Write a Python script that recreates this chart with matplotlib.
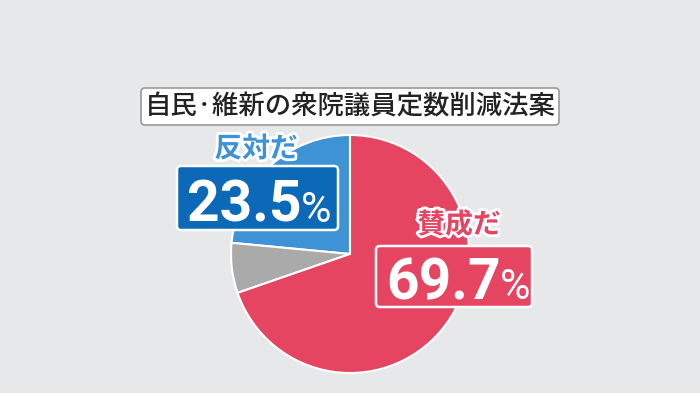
import matplotlib.pyplot as plt
import matplotlib.patheffects as pe
from matplotlib.patches import FancyBboxPatch

TITLE = "自民·維新の衆院議員定数削減法案"
labels = ["反対だ", "その他", "賛成だ"]
shares = [23.5, 6.8, 69.7]
colors = ["#3d93d5", "#aaaaaa", "#e64561"]

BG = "#e6e8e9"
BLUE_BOX = "#0b69b7"
RED_BOX = "#e64561"

plt.rcParams["font.family"] = ["Noto Sans CJK JP", "DejaVu Sans"]

fig = plt.figure(figsize=(7, 3.93), dpi=100)
fig.patch.set_facecolor(BG)
ax = fig.add_axes([0, 0, 1, 1])
ax.set_xlim(0, 700)
ax.set_ylim(0, 393)
ax.set_aspect("equal")
ax.axis("off")

H = 393


def box(x0, y0, x1, y1, face, edge, lw):
    # y given in pixel-from-top coords
    p = FancyBboxPatch((x0, H - y1), x1 - x0, y1 - y0,
                       boxstyle="round,pad=0,rounding_size=4",
                       facecolor=face, edgecolor=edge, linewidth=lw, zorder=4)
    ax.add_patch(p)


def percent(x_left, y_base, value):
    t = ax.text(x_left, H - y_base, f"{value}", ha="left", va="baseline",
                fontsize=41, fontweight="bold", family=["Roboto", "DejaVu Sans"],
                color="white", zorder=5)
    ax.annotate("%", xy=(1, 0), xycoords=t, xytext=(-0.5, 2.0),
                textcoords="offset points", ha="left", va="bottom",
                fontsize=30, fontweight="regular", family=["Roboto", "DejaVu Sans"],
                color="white", zorder=5)


ax.pie(shares, colors=colors, center=(350, H - 254), radius=119,
       startangle=90, counterclock=True,
       wedgeprops=dict(edgecolor="white", linewidth=1.5))
ax.set_xlim(0, 700)
ax.set_ylim(0, 393)

# title
box(141, 88, 559, 125, "white", "#9a9a9a", 1.2)
ax.text(350, H - 106.5, TITLE, ha="center", va="center", fontsize=19,
        fontweight="medium", color="#222222", zorder=5)

outline = [pe.withStroke(linewidth=4, foreground="white")]

# against
ax.text(256, H - 149, labels[0], ha="center", va="center", fontsize=20,
        fontweight="bold", color=colors[0], path_effects=outline, zorder=5)
box(177, 166, 338, 230, BLUE_BOX, "white", 1.8)
percent(187, 222, shares[0])

# for
ax.text(459, H - 225, labels[2], ha="center", va="center", fontsize=20,
        fontweight="bold", color=colors[2], path_effects=outline, zorder=5)
box(376, 246, 532, 307, RED_BOX, "white", 1.8)
percent(386, 299, shares[2])

fig.savefig("out.png", dpi=100, facecolor=BG)
